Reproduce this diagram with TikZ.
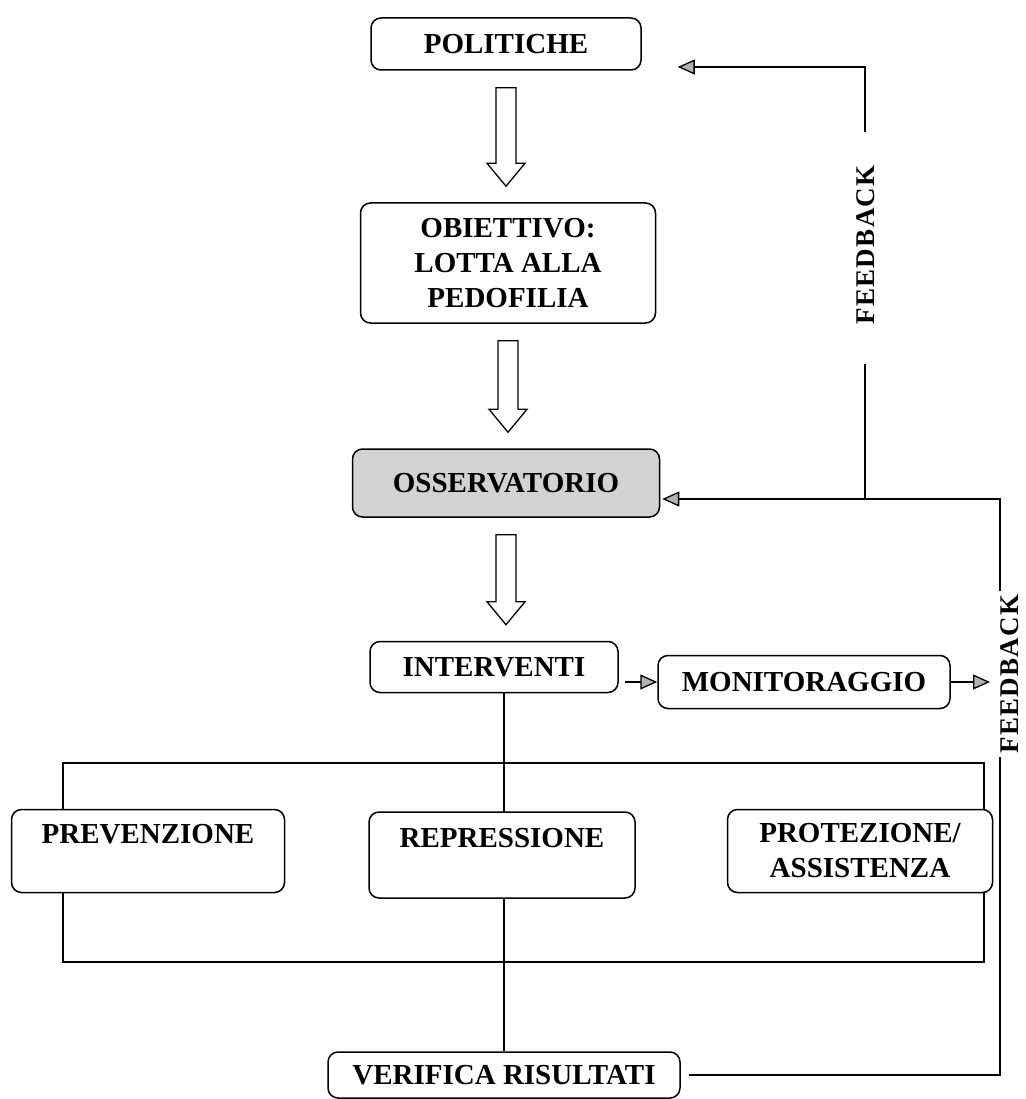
\documentclass[tikz,border=0pt]{standalone}
\usepackage{fontspec}
\setmainfont{Liberation Serif}
\usetikzlibrary{arrows.meta,calc}

\tikzset{
  box/.style={draw, line width=1.5pt, rounded corners=10pt, fill=white, align=center,
    inner sep=0pt, font=\bfseries\fontsize{29}{35}\selectfont},
  fbtext/.style={rotate=90, inner sep=3pt,
    font=\bfseries\fontsize{27}{30}\selectfont\addfontfeature{LetterSpace=5}},
  fb/.style={line width=1.3pt},
  fbarrow/.style={fb, -{Triangle[length=17pt,width=15pt,fill=gray!60,line width=1.3pt]}},
  blockarr/.style={line width=1.3pt, fill=white},
}

% hollow block arrow between two boxes
\newcommand{\blockarrow}[2]{%
  \path ($(#1.south)+(0,17)$) coordinate (ba1)
        ($(#1.south |- #2.north)+(0,-16)$) coordinate (ba2);
  \draw[blockarr] ($(ba1)+(-10,0)$) -- ($(ba1)+(10,0)$) -- ($(ba2)+(10,-23)$)
    -- ($(ba2)+(19,-23)$) -- (ba2) -- ($(ba2)+(-19,-23)$) -- ($(ba2)+(-10,-23)$) -- cycle;
}

\begin{document}
\begin{tikzpicture}[x=1pt,y=-1pt]
    \useasboundingbox (0,0) rectangle (1025,1099);
    %% Main chain
    \node[box, minimum width=270pt, minimum height=52pt] (pol) at (506,44) {POLITICHE};
    \node[box, minimum width=295pt, minimum height=120pt] (obj) at (508,263)
      {OBIETTIVO:\\LOTTA ALLA\\PEDOFILIA};
    \node[box, fill=gray!35, minimum width=307pt, minimum height=68pt] (oss) at (506,483)
      {OSSERVATORIO};
    \node[box, minimum width=248pt, minimum height=51pt] (int) at (494,667) {INTERVENTI};
    \node[box, minimum width=292pt, minimum height=53pt] (mon) at (804,682) {MONITORAGGIO};
    \node[box, minimum width=352pt, minimum height=46pt] (ver) at (504,1075)
      {VERIFICA RISULTATI};
    \blockarrow{pol}{obj}
    \blockarrow{obj}{oss}
    \blockarrow{oss}{int}

    %% Interventions
    \draw[fb] (63,763) rectangle (984,962);
    \draw[fb] (int.south -| ver.north) -- (ver.north);
    \node[box, minimum width=273pt, minimum height=83pt] (prev) at (148,851)
      {PREVENZIONE\\\phantom{X}};
    \node[box, minimum width=266pt, minimum height=86pt] (rep) at (502,855)
      {REPRESSIONE\\\phantom{X}};
    \node[box, minimum width=265pt, minimum height=83pt] (prot) at (860,851)
      {PROTEZIONE/\\ASSISTENZA};

    %% Feedback loops
    \node[fbtext] (fb1) at (866,245) {FEEDBACK};
    \node[fbtext] (fb2) at (1010,674) {FEEDBACK};
    \coordinate (c1) at (1000,499);
    \coordinate (c3) at (865,67);
    \draw[fbarrow, shorten <=6pt] (mon.west -| int.east) -- (mon.west);
    \draw[fbarrow, shorten >=10pt] (mon.east) -- (mon.east -| c1);
    \draw[fb, shorten <=8pt] (ver.east) -- (ver.east -| c1) -- (c1 |- fb2.west);
    \draw[fbarrow, shorten >=2pt] (c1 |- fb2.east) -- (c1) -- (oss.east |- c1);
    \draw[fb] (c3 |- c1) -- ($(c3 |- fb1.west)+(0,36)$);
    \draw[fbarrow, shorten >=36pt] ($(c3 |- fb1.east)+(0,-30)$) -- (c3) -- (c3 -| pol.east);
\end{tikzpicture}
\end{document}
